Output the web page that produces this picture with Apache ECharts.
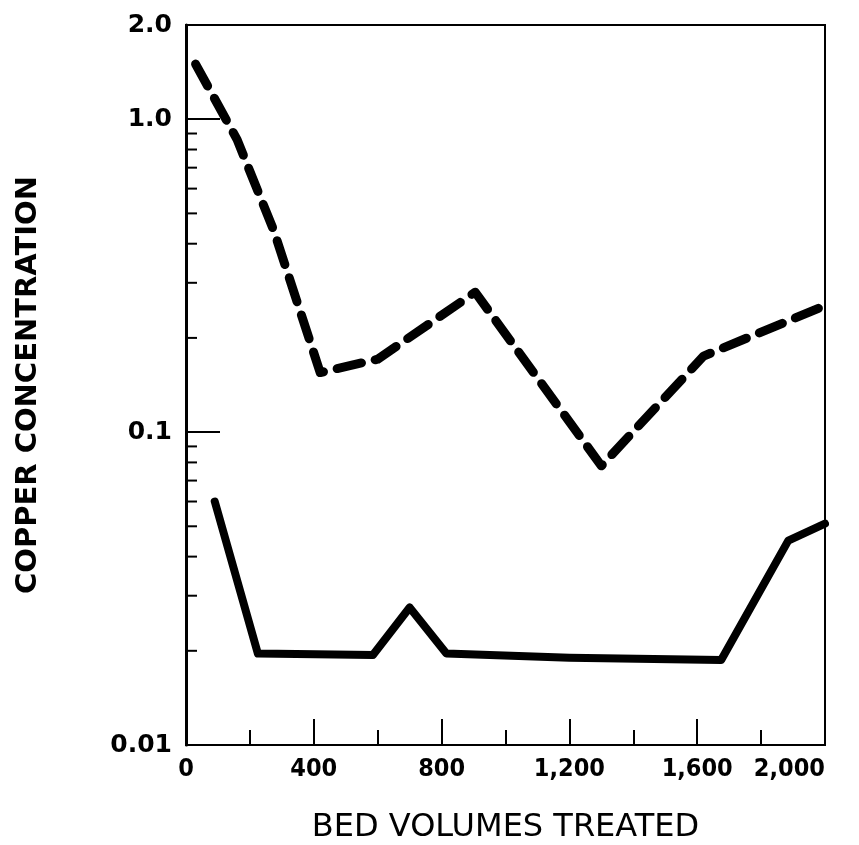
<!DOCTYPE html>
<html>
<head>
<meta charset="utf-8">
<script src="https://cdn.jsdelivr.net/npm/echarts@6/dist/echarts.min.js"></script>
<style>
html,body{margin:0;padding:0;background:#fff;}
#c{width:859px;height:845px;}
</style>
</head>
<body>
<div id="c"></div>
<script>
// Dashed curve (upper)
var dashedX = [30, 160, 275, 420, 600, 905, 1300, 1620, 1985];
var dashedY = [1.5, 0.86, 0.44, 0.155, 0.171, 0.28, 0.078, 0.175, 0.25];
// Solid curve (lower)
var solidX = [90, 225, 585, 700, 815, 1200, 1675, 1885, 2000];
var solidY = [0.060, 0.0196, 0.0194, 0.0275, 0.0196, 0.019, 0.0187, 0.045, 0.051];
// Axis tick labels
var xLabelValues = [0, 400, 800, 1200, 1600, 2000];
var xLabelTexts = ['0', '400', '800', '1,200', '1,600', '2,000'];
var yLabelValues = [0.01, 0.1, 1, 2];
var yLabelTexts = ['0.01', '0.1', '1.0', '2.0'];
// Minor log ticks on y axis
var yMinorTicks = [0.02, 0.03, 0.04, 0.05, 0.06, 0.07, 0.08, 0.09,
                   0.2, 0.3, 0.4, 0.5, 0.6, 0.7, 0.8, 0.9];

function pairs(xs, ys) { return xs.map(function (x, i) { return [x, ys[i]]; }); }

var chart = echarts.init(document.getElementById('c'));
var condFont = '"DejaVu Sans Condensed", "DejaVu Sans", sans-serif';
var sansFont = '"DejaVu Sans", sans-serif';

chart.setOption({
  animation: false,
  backgroundColor: '#ffffff',
  grid: {
    left: 186, right: 34, top: 25, bottom: 100,
    outerBoundsMode: 'none', containLabel: false,
    show: true, borderColor: '#000', borderWidth: 2, backgroundColor: 'transparent'
  },
  xAxis: [{
    type: 'value', min: 0, max: 2000, interval: 200,
    axisLine: { show: true, lineStyle: { color: '#000', width: 2 } },
    axisTick: { show: true, inside: true, length: 15, lineStyle: { color: '#000', width: 2 } },
    splitLine: { show: false },
    axisLabel: {
      color: '#000', fontSize: 25, fontWeight: 'bold', fontFamily: condFont, margin: 12,
      showMinLabel: true, showMaxLabel: true, alignMaxLabel: 'right',
      formatter: function (v) {
        var i = xLabelValues.indexOf(Math.round(v));
        return i >= 0 ? xLabelTexts[i] : '';
      }
    },
    name: 'BED VOLUMES TREATED', nameLocation: 'middle', nameGap: 67,
    nameTextStyle: { color: '#000', fontSize: 32, fontFamily: sansFont, fontWeight: 'normal' }
  }, {
    type: 'value', min: 0, max: 2000, interval: 400, position: 'bottom',
    axisLine: { show: false },
    axisTick: { show: true, inside: true, length: 26, lineStyle: { color: '#000', width: 2 } },
    splitLine: { show: false },
    axisLabel: { show: false }
  }],
  yAxis: [{
    type: 'log', logBase: 10, min: 0.01, max: 2,
    axisLine: { show: true, lineStyle: { color: '#000', width: 3 } },
    axisTick: { show: true, inside: true, length: 34, lineStyle: { color: '#000', width: 2 } },
    splitLine: { show: false },
    axisLabel: {
      color: '#000', fontSize: 25, fontWeight: 'bold', fontFamily: sansFont, margin: 14,
      showMinLabel: true, showMaxLabel: true,
      formatter: function (v) {
        for (var i = 0; i < yLabelValues.length; i++) {
          if (Math.abs(v - yLabelValues[i]) / yLabelValues[i] < 1e-6) return yLabelTexts[i];
        }
        return '';
      }
    },
    name: 'COPPER CONCENTRATION', nameLocation: 'middle', nameGap: 143, nameRotate: 90,
    nameTextStyle: { color: '#000', fontSize: 29, fontWeight: 'bold', fontFamily: sansFont }
  }],
  series: [{
    type: 'custom',
    coordinateSystem: 'cartesian2d',
    xAxisIndex: 0, yAxisIndex: 0,
    silent: true,
    data: yMinorTicks.map(function (v) { return [0, v]; }),
    renderItem: function (params, api) {
      var p = api.coord([0, api.value(1)]);
      return {
        type: 'line',
        shape: { x1: p[0], y1: p[1], x2: p[0] + 11, y2: p[1] },
        style: { stroke: '#000', lineWidth: 2 }
      };
    },
    z: 3
  }, {
    type: 'line',
    data: pairs(dashedX, dashedY),
    symbol: 'none',
    lineStyle: { color: '#000', width: 9, type: [25, 14], cap: 'round', join: 'round' },
    z: 5
  }, {
    type: 'line',
    data: pairs(solidX, solidY),
    symbol: 'none',
    lineStyle: { color: '#000', width: 8, type: 'solid', cap: 'round', join: 'round' },
    z: 5
  }]
});
</script>
</body>
</html>
